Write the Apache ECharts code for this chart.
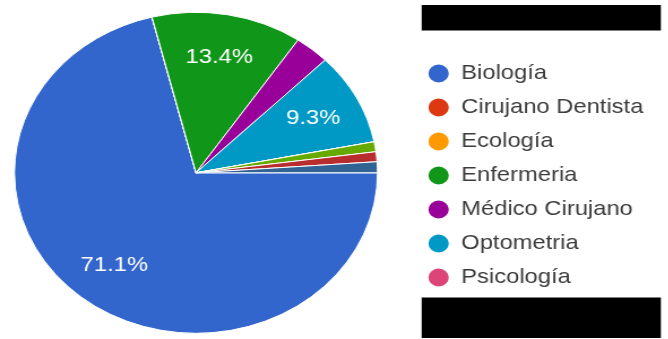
<!DOCTYPE html>
<html>
<head>
<meta charset="utf-8">
<script src="https://cdn.jsdelivr.net/npm/echarts@6/dist/echarts.min.js"></script>
<style>
  html, body { margin: 0; padding: 0; background: #fff; overflow: hidden; }
  #wrap { width: 668px; height: 339px; overflow: hidden; }
  /* the chart is laid out on a narrower canvas and widened horizontally */
  #chart { width: 591px; height: 339px; transform: scaleX(1.131); transform-origin: 0 0; }
</style>
</head>
<body>
<div id="wrap"><div id="chart"></div></div>
<script>
// Carreras (porcentaje de respuestas)
const categories = [
  'Biología', 'Cirujano Dentista', 'Ecología', 'Enfermeria',
  'Médico Cirujano', 'Optometria', 'Psicología',
  'Otra carrera 1', 'Otra carrera 2', 'Otra carrera 3'
];
const percentages = [71.1, 0, 0, 13.4, 3.1, 9.3, 0, 1.0, 1.0, 1.1];
const legendNames = categories.slice(0, 7);
const palette = [
  '#3366cc', '#dc3912', '#ff9900', '#109618', '#990099',
  '#0099c6', '#dd4477', '#66aa00', '#b82e2e', '#316395'
];
const LABEL_MIN = 5; // slices smaller than this carry no label

const font = 'Arial, "Liberation Sans", sans-serif';
const pieData = categories.map((name, i) => ({ name, value: percentages[i] }));
const labelData = categories.map((name, i) => ({
  name,
  value: percentages[i],
  label: { show: percentages[i] >= LABEL_MIN }
}));

const chart = echarts.init(document.getElementById('chart'), null, { renderer: 'canvas' });
chart.setOption({
  animation: false,
  color: palette,
  legend: {
    orient: 'vertical',
    left: 376.8,
    top: 62.5,
    padding: 0,
    data: legendNames,
    icon: 'circle',
    itemWidth: 20,
    itemHeight: 20,
    itemGap: 12,
    selectedMode: false,
    textStyle: { fontFamily: font, fontSize: 21, lineHeight: 21, color: '#3c3c3c', padding: [0, 0, 0, 5] }
  },
  series: [
    {
      type: 'pie',
      center: [173.3, 172.8],
      radius: [0, 160.5],
      startAngle: 0,
      clockwise: true,
      data: pieData,
      label: { show: false },
      labelLine: { show: false },
      itemStyle: { borderColor: '#ffffff', borderWidth: 1 },
      emphasis: { disabled: true }
    },
    {
      // transparent ring that places the percentage labels
      type: 'pie',
      center: [173.3, 172.8],
      radius: [68, 160.5],
      startAngle: 0,
      clockwise: true,
      silent: true,
      data: labelData,
      itemStyle: { color: 'rgba(0,0,0,0)', borderWidth: 0 },
      label: {
        position: 'inside',
        color: '#ffffff',
        fontFamily: font,
        fontSize: 21,
        formatter: p => p.value.toFixed(1) + '%'
      },
      labelLine: { show: false },
      emphasis: { disabled: true }
    }
  ],
  graphic: [
    { type: 'rect', shape: { x: 372.8, y: 5, width: 211.5, height: 25.5 }, style: { fill: '#000' } },
    { type: 'rect', shape: { x: 372.8, y: 297.5, width: 211.5, height: 40.5 }, style: { fill: '#000' } }
  ]
});
</script>
</body>
</html>
